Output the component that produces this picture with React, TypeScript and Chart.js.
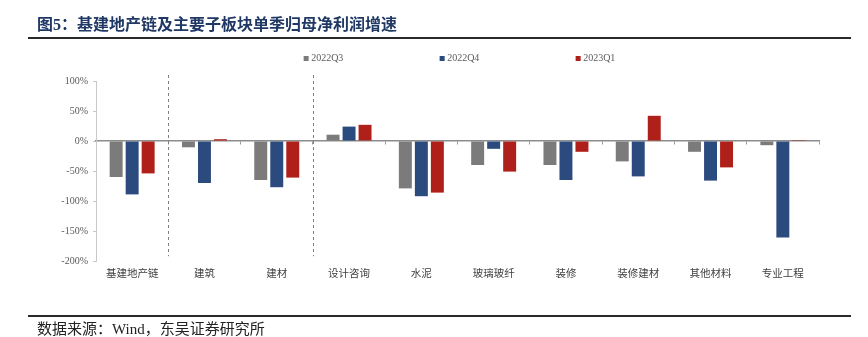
import React, { useEffect, useRef } from 'react';
import { Chart, registerables } from 'chart.js';

Chart.register(...registerables);

const categories = ['基建地产链', '建筑', '建材', '设计咨询', '水泥', '玻璃玻纤', '装修', '装修建材', '其他材料', '专业工程'];
const seriesNames = ['2022Q3', '2022Q4', '2023Q1'];
const q3Values = [-60, -10.5, -65, 10.5, -79, -40, -40, -34, -18, -7];
const q4Values = [-89, -70, -77, 24, -92, -13, -65, -59, -66, -161];
const q1Values = [-54, 3, -61, 27, -86, -51, -18, 42, -44, 1.5];
const seriesColors = ['#7b7b7b', '#2b4a7e', '#b0201a'];
const yMin = -200;
const yMax = 100;
const yStep = 50;
const separatorsAfter = [0, 2];

const SERIF = '"Liberation Serif", "Times New Roman", serif';
const CJK = '"Noto Sans CJK SC", sans-serif';

const separatorPlugin = {
  id: 'separators',
  afterDatasetsDraw(chart: any) {
    const x = chart.scales.x;
    const y = chart.scales.y;
    const ctx = chart.ctx;
    ctx.save();
    ctx.strokeStyle = '#808080';
    ctx.lineWidth = 1;
    ctx.setLineDash([3, 3]);
    separatorsAfter.forEach((i) => {
      const px = Math.round((x.getPixelForValue(i) + x.getPixelForValue(i + 1)) / 2) + 0.5;
      ctx.beginPath();
      ctx.moveTo(px, y.getPixelForValue(110));
      ctx.lineTo(px, y.getPixelForValue(-192));
      ctx.stroke();
    });
    ctx.restore();
  },
};

const legendPlugin = {
  id: 'customLegend',
  afterDraw(chart: any) {
    const ctx = chart.ctx;
    const area = chart.chartArea;
    const ds = chart.data.datasets;
    ctx.save();
    ctx.font = '10px ' + SERIF;
    ctx.textBaseline = 'middle';
    const stride = 136;
    const box = 5;
    const gap = 2.5;
    const widths = ds.map((d: any) => box + gap + ctx.measureText(d.label).width);
    const total = stride * (ds.length - 1) + widths[ds.length - 1];
    const x0 = (area.left + area.right) / 2 - total / 2 + 2;
    const yc = 58.5;
    ds.forEach((d: any, i: number) => {
      const x = x0 + i * stride;
      ctx.fillStyle = d.backgroundColor;
      ctx.fillRect(x, yc - box / 2, box, box);
      ctx.fillStyle = '#595959';
      ctx.fillText(d.label, x + box + gap, yc);
    });
    ctx.restore();
  },
};

export default function App() {
  const ref = useRef<HTMLCanvasElement | null>(null);

  useEffect(() => {
    if (!ref.current) return;
    const values = [q3Values, q4Values, q1Values];
    const chart = new Chart(ref.current, {
      type: 'bar',
      data: {
        labels: categories,
        datasets: seriesNames.map((name, i) => ({
          label: name,
          data: values[i],
          backgroundColor: seriesColors[i],
          borderWidth: 0,
          categoryPercentage: 0.664,
          barPercentage: 0.81,
        })),
      },
      options: {
        responsive: false,
        animation: false,
        layout: { padding: { left: 36, right: 49, top: 81, bottom: 46 } },
        plugins: {
          legend: { display: false },
          title: { display: false },
          tooltip: { enabled: false },
        },
        scales: {
          x: {
            type: 'category',
            offset: true,
            grid: { display: false, drawTicks: false },
            border: { display: false },
            ticks: {
              font: { family: CJK, size: 10.5 },
              color: '#404040',
              padding: 6,
              maxRotation: 0,
              autoSkip: false,
            },
            afterFit(s: any) {
              s.height = 30;
            },
          },
          x0: {
            type: 'category',
            axis: 'x',
            position: { y: 0 },
            offset: true,
            grid: { offset: true, drawOnChartArea: false, drawTicks: true, tickLength: 3, color: '#999999' },
            border: { display: true, color: '#8c8c8c', width: 1.5 },
            ticks: { display: false },
          },
          y: {
            min: yMin,
            max: yMax,
            ticks: {
              stepSize: yStep,
              callback: (v: any) => v + '%',
              font: { family: SERIF, size: 10 },
              color: '#595959',
              padding: 5,
            },
            grid: { drawOnChartArea: false, tickLength: 3, color: '#c8c8c8' },
            border: { display: true, color: '#c8c8c8' },
            afterFit(s: any) {
              s.width = 60;
            },
          },
        } as any,
      },
      plugins: [separatorPlugin, legendPlugin],
    });
    return () => chart.destroy();
  }, []);

  return (
    <div style={{ position: 'relative', width: 868, height: 337, overflow: 'hidden', background: '#fff' }}>
      <style>{'body{margin:0}'}</style>
      <canvas ref={ref} width={868} height={337} style={{ position: 'absolute', left: 0, top: 0 }} />
      <div
        style={{
          position: 'absolute',
          left: 37,
          top: 14,
          fontFamily: '"Liberation Serif", "Noto Sans CJK SC", serif',
          fontWeight: 'bold',
          fontSize: 16,
          lineHeight: '22px',
          color: '#1f3864',
          whiteSpace: 'nowrap',
        }}
      >
        图5：基建地产链及主要子板块单季归母净利润增速
      </div>
      <div style={{ position: 'absolute', left: 28, top: 37, width: 823, height: 2, background: '#2a2a2a' }} />
      <div style={{ position: 'absolute', left: 28, top: 315, width: 823, height: 2, background: '#2a2a2a' }} />
      <div
        style={{
          position: 'absolute',
          left: 37,
          top: 320,
          fontFamily: '"Liberation Serif", "Noto Sans CJK SC", serif',
          fontSize: 15,
          lineHeight: '18px',
          color: '#222',
          whiteSpace: 'nowrap',
        }}
      >
        数据来源：Wind，东吴证券研究所
      </div>
    </div>
  );
}
